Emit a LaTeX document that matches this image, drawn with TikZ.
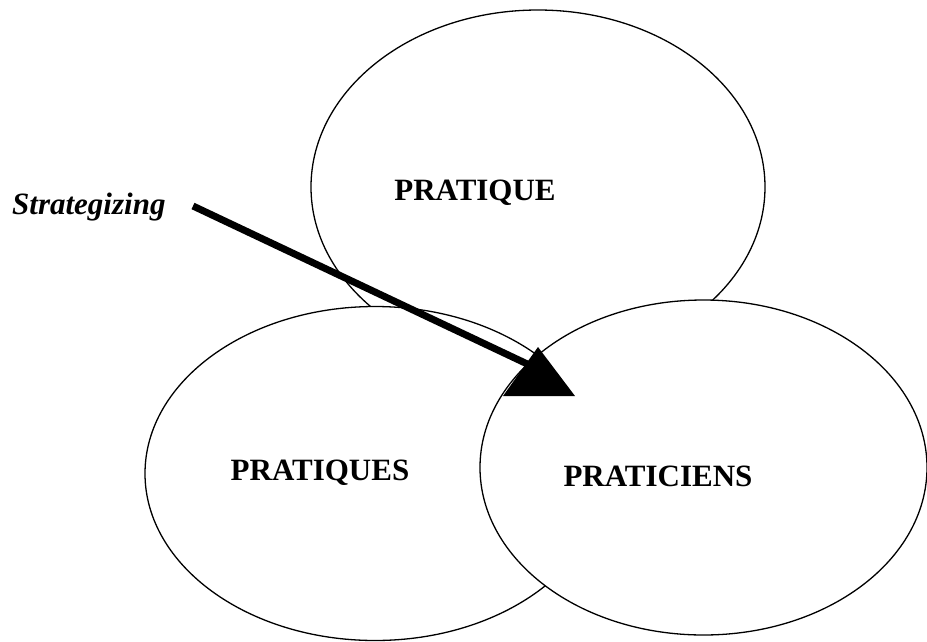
\documentclass[tikz,border=0pt]{standalone}
\usepackage{fontspec}
\setmainfont{Liberation Serif}
\usetikzlibrary{shapes.geometric}
\begin{document}
\begin{tikzpicture}[x=1pt,y=-1pt,
  bubble/.style={ellipse,draw=black,fill=white,line width=1.3pt,inner sep=0pt},
  lab/.style={font=\fontsize{31}{36}\selectfont\bfseries,anchor=base,inner sep=0pt},
  strat/.style={font=\fontsize{31}{36}\selectfont\bfseries\itshape,anchor=base west,inner sep=0pt},
  thickarrow/.style={line width=7pt,black}]
\useasboundingbox (0,0) rectangle (927,641);
\fill[white] (0,0) rectangle (927,641);
\node[bubble,minimum width=454pt,minimum height=354pt] (top) at (538,187) {};
\node[bubble,minimum width=460pt,minimum height=334pt] (left) at (375,473.5) {};
\node[bubble,minimum width=447pt,minimum height=335pt] (right) at (703.5,467.5) {};
\node[lab] (pratique) at (475,200) {PRATIQUE};
\node[lab] (pratiques) at (320,480) {PRATIQUES};
\node[lab] (praticiens) at (658,486) {PRATICIENS};
\node[strat] (strategizing) at (12,214) {Strategizing};
\coordinate (astart) at (193,206);
\coordinate (aend) at (540,370);
\draw[thickarrow] (astart) -- (aend);
\coordinate (tipA) at (538,347);
\coordinate (tipB) at (503,396);
\coordinate (tipC) at (575,396);
\fill[black] (tipA) -- (tipB) -- (tipC) -- cycle;
\end{tikzpicture}
\end{document}
